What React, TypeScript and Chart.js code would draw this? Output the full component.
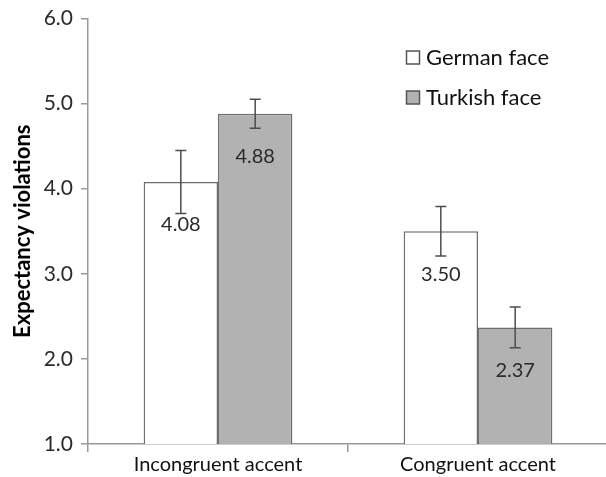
import React, { useEffect, useRef } from "react";
import { Chart, registerables } from "chart.js";

Chart.register(...registerables);

const categories = ["Incongruent accent", "Congruent accent"];
const seriesNames = ["German face", "Turkish face"];
const germanValues = [4.08, 3.5];
const turkishValues = [4.88, 2.37];
const germanErrors = [0.37, 0.29];
const turkishErrors = [0.17, 0.24];
const yTickValues = [1, 2, 3, 4, 5, 6];
const yTitle = "Expectancy violations";

const seriesFill = ["#ffffff", "#b2b2b2"];
const FONT = "Lato, 'Liberation Sans', sans-serif";

const errorsBySeries = [germanErrors, turkishErrors];

const errorBarPlugin = {
  id: "errorBars",
  afterDatasetsDraw(chart: any) {
    const ctx = chart.ctx;
    const yScale = chart.scales.y;
    ctx.save();
    chart.data.datasets.forEach((ds: any, i: number) => {
      const meta = chart.getDatasetMeta(i);
      meta.data.forEach((el: any, j: number) => {
        const v = ds.data[j];
        const e = errorsBySeries[i][j];
        const x = el.x;
        const yt = yScale.getPixelForValue(v + e);
        const yb = yScale.getPixelForValue(v - e);
        ctx.strokeStyle = "#4d4d4d";
        ctx.lineWidth = 1.5;
        ctx.beginPath();
        ctx.moveTo(x, yt);
        ctx.lineTo(x, yb);
        ctx.moveTo(x - 5.5, yt);
        ctx.lineTo(x + 5.5, yt);
        ctx.moveTo(x - 5.5, yb);
        ctx.lineTo(x + 5.5, yb);
        ctx.stroke();
        // value label
        ctx.fillStyle = "#2a2a2a";
        ctx.font = `20px ${FONT}`;
        ctx.textAlign = "center";
        ctx.textBaseline = "middle";
        ctx.fillText(v.toFixed(2), x, el.y + 43);
      });
    });
    ctx.restore();
  },
};

const legendPlugin = {
  id: "insideLegend",
  afterDraw(chart: any) {
    const ctx = chart.ctx;
    ctx.save();
    chart.data.datasets.forEach((ds: any, i: number) => {
      const bx = 406.5;
      const by = 51 + i * 40;
      ctx.fillStyle = ds.backgroundColor;
      ctx.strokeStyle = "#555555";
      ctx.lineWidth = 1.5;
      ctx.fillRect(bx, by, 13, 13);
      ctx.strokeRect(bx, by, 13, 13);
      ctx.fillStyle = "#111111";
      ctx.font = `22px ${FONT}`;
      ctx.textAlign = "left";
      ctx.textBaseline = "middle";
      ctx.fillText(ds.label, 426, by + 7);
    });
    ctx.restore();
  },
};

export default function App() {
  const ref = useRef<HTMLCanvasElement | null>(null);

  useEffect(() => {
    if (!ref.current) return;
    const chart = new Chart(ref.current, {
      type: "bar",
      data: {
        labels: categories,
        datasets: [
          {
            label: seriesNames[0],
            data: germanValues,
            backgroundColor: seriesFill[0],
            borderColor: "#6e6e6e",
            borderWidth: 1.5,
            borderSkipped: false,
          },
          {
            label: seriesNames[1],
            data: turkishValues,
            backgroundColor: seriesFill[1],
            borderColor: "#6e6e6e",
            borderWidth: 1.5,
            borderSkipped: false,
          },
        ],
      },
      options: {
        animation: false,
        responsive: false,
        devicePixelRatio: 1,
        layout: { padding: { top: 17, right: 2, left: 0, bottom: 0 } },
        plugins: {
          legend: { display: false },
          tooltip: { enabled: false },
        },
        datasets: {
          bar: { categoryPercentage: 0.572, barPercentage: 1 },
        },
        scales: {
          x: {
            offset: true,
            grid: {
              offset: true,
              drawOnChartArea: false,
              drawTicks: true,
              tickLength: 8,
              color: "#999999",
              lineWidth: 1.5,
            },
            border: { color: "#999999", width: 1.5 },
            ticks: {
              color: "#111111",
              font: { family: FONT, size: 20 },
              padding: 1,
            },
            afterFit(scale: any) {
              scale.height = 33;
            },
          },
          y: {
            min: 1,
            max: 6,
            afterBuildTicks(scale: any) {
              scale.ticks = yTickValues.map((v) => ({ value: v }));
            },
            grid: {
              drawOnChartArea: false,
              drawTicks: true,
              tickLength: 7,
              color: "#999999",
              lineWidth: 1.5,
            },
            border: { color: "#999999", width: 1.5 },
            ticks: {
              color: "#2a2a2a",
              font: { family: FONT, size: 21, lineHeight: 1 },
              padding: 8,
              callback: (v: any) => Number(v).toFixed(1),
            },
            title: {
              display: true,
              text: yTitle,
              color: "#000000",
              font: { family: FONT, size: 22, weight: "bold" },
              padding: { top: 10, bottom: 0 },
            },
            afterFit(scale: any) {
              scale.width = 88;
            },
          },
        },
      },
      plugins: [errorBarPlugin, legendPlugin],
    });
    return () => chart.destroy();
  }, []);

  return (
    <div
      style={{
        position: "absolute",
        left: 0,
        top: 0,
        width: 606,
        height: 477,
        overflow: "hidden",
        background: "#ffffff",
      }}
    >
      <canvas ref={ref} width={610} height={477} style={{ width: 610, height: 477, display: "block" }} />
    </div>
  );
}
